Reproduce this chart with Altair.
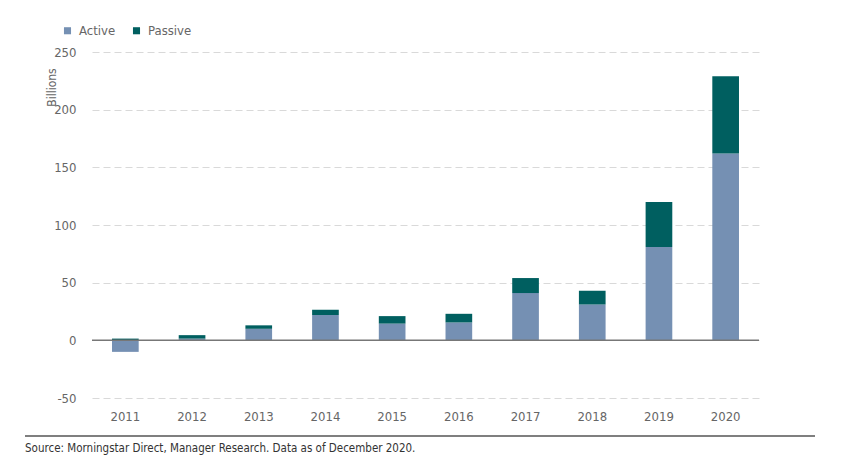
import altair as alt
import pandas as pd

years = ["2011", "2012", "2013", "2014", "2015", "2016", "2017", "2018", "2019", "2020"]
active = [-10, 1.5, 10, 22, 14.5, 15.5, 41, 31, 81, 162]
passive = [1.5, 3, 3, 4.5, 6.5, 7.5, 13, 12, 39, 67]
series = ["Active", "Passive"]
colors = ["#7590b3", "#005f60"]
source_text = "Source: Morningstar Direct, Manager Research. Data as of December 2020."

rows = []
for i, y in enumerate(years):
    rows.append({"year": y, "type": "Active", "value": active[i], "ord": 0})
    rows.append({"year": y, "type": "Passive", "value": passive[i], "ord": 1})
df = pd.DataFrame(rows)

FONT = "DejaVu Sans Condensed, Liberation Sans, sans-serif"

bars = alt.Chart(df).mark_bar().encode(
    x=alt.X("year:N", sort=years, title=None,
            scale=alt.Scale(paddingInner=0.6, paddingOuter=0.3),
            axis=alt.Axis(labelAngle=0, ticks=False, domain=False, labelPadding=12, grid=False,
                          labelFont=FONT, labelFontSize=13, labelColor="#666666")),
    y=alt.Y("value:Q", stack="zero",
            scale=alt.Scale(domain=[-50, 250], nice=False),
            axis=alt.Axis(values=[-50, 0, 50, 100, 150, 200, 250], ticks=False, domain=False,
                          labelExpr="'' + datum.value",
                          labelFont=FONT, labelFontSize=13, labelColor="#666666", labelPadding=16,
                          grid=True, gridColor="#d9d9d9", gridDash=[7, 4], gridWidth=1,
                          title="Billions", titleFont=FONT, titleFontSize=12,
                          titleFontWeight="normal", titleColor="#666666",
                          titleAngle=270, titleX=-41, titleY=35,
                          titleAlign="center", titleBaseline="middle")),
    color=alt.Color("type:N", scale=alt.Scale(domain=series, range=colors),
                    legend=alt.Legend(title=None, orient="none", legendX=-31, legendY=-28,
                                      direction="horizontal", symbolType="square",
                                      symbolSize=50, symbolStrokeWidth=0, padding=0,
                                      labelFont=FONT, labelFontSize=13, labelColor="#666666",
                                      labelOffset=5, columnPadding=14)),
    order=alt.Order("ord:Q", sort="ascending"),
)

zero = alt.Chart(pd.DataFrame({"z": [0]})).mark_rule(color="#777777", strokeWidth=1.5).encode(
    y=alt.Y("z:Q")
)

line = alt.Chart(pd.DataFrame({"a": [0]})).mark_rule(color="#000000", strokeWidth=1.2, clip=False).encode(
    x=alt.value(-67), x2=alt.value(723), y=alt.value(384)
)

src = alt.Chart(pd.DataFrame({"t": [source_text]})).mark_text(
    align="left", baseline="middle", font=FONT, fontSize=11.5, color="#333333", clip=False
).encode(
    x=alt.value(-67), y=alt.value(397), text="t:N"
)

chart = alt.layer(bars, zero, line, src).properties(
    width=667, height=346,
    background="white",
    autosize=alt.AutoSizeParams(type="none"),
    padding={"left": 84, "top": 44, "right": 60, "bottom": 60},
).configure_view(stroke=None)

chart.save("out.html", embed_options={"renderer": "svg", "actions": False})
